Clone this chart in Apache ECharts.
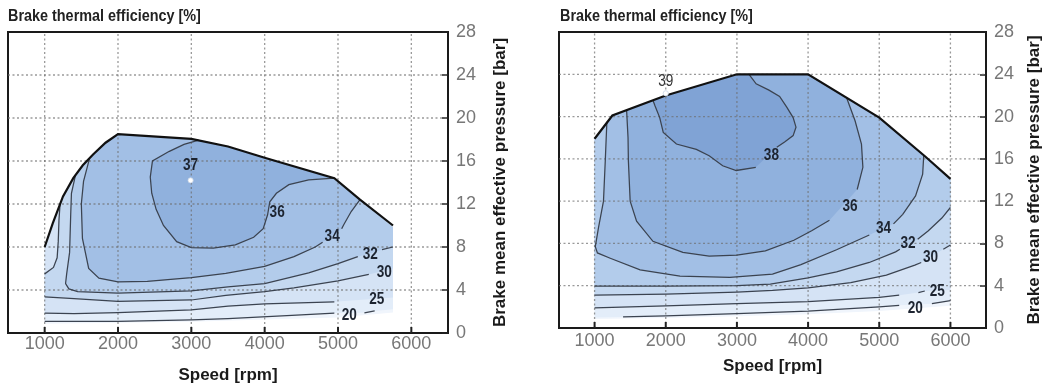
<!DOCTYPE html>
<html><head><meta charset="utf-8">
<script src="https://cdn.jsdelivr.net/npm/echarts@6/dist/echarts.min.js"></script>
<style>html,body{margin:0;padding:0;background:#fff}#c{width:1060px;height:389px}</style>
</head><body><div id="c"></div>
<script>
// ---------- shared ticks ----------
const xTicks = [1000, 2000, 3000, 4000, 5000, 6000];
const yGridTicks = [4, 8, 12, 16, 20, 24];

// ---------- LEFT MAP: full-load envelope (rpm, bar) ----------
const leftTop = [[1000,8.0],[1110,10.2],[1250,12.7],[1390,14.4],[1520,15.6],[1660,16.6],[1830,17.7],[2000,18.5],[3000,18.05],[3500,17.35],[4000,16.3],[4950,14.4],[5300,12.4],[5750,10.0]];
const leftBottom = [[5750,1.9],[5000,1.45],[4000,1.25],[3000,1.05],[2000,0.95],[1000,0.85]];
// contour lines (efficiency %)
const left36 = [[3100,17.95],[2900,17.55],[2700,16.9],[2470,16.0],[2440,14.5],[2460,13.0],[2520,11.5],[2620,10.0],[2800,8.5],[3000,7.95],[3300,7.9],[3600,8.2],[3850,8.9],[3980,9.7],[4040,11.0],[4070,12.2],[4160,13.0],[4330,13.8],[4600,14.25],[4950,14.4]];
const left36Close = [[5000,22],[3100,22]];
const left34a = [[1610,16.2],[1530,14.1],[1500,12.0],[1515,8.8],[1600,6.0],[1740,5.1],[2000,4.75],[2400,4.8],[3000,5.15],[3470,5.55],[4000,6.2],[4400,7.1],[4690,8.0],[4790,8.45]];
const left34b = [[5050,9.7],[5080,10.1],[5180,11.3],[5300,12.4]];
const left34Close = [[5400,22],[1610,22]];
const left32a = [[1420,14.68],[1365,13.0],[1355,11.0],[1340,7.5],[1300,5.5],[1285,4.6],[1330,4.1],[1450,3.85],[2000,3.72],[3000,3.92],[3500,4.3],[4000,4.6],[4600,5.6],[5000,6.45],[5270,7.1]];
const left32b = [[5600,7.75],[5750,8.0]];
const left32Close = [[6000,8.0],[6000,22],[1420,22]];
const left30a = [[1210,12.0],[1195,10.5],[1185,8.5],[1170,7.0],[1120,6.1],[1000,5.5]];
const left30b = [[1000,3.35],[1400,3.2],[2000,2.95],[3000,3.07],[3470,3.5],[4000,3.85],[4400,4.2],[5000,4.85],[5420,5.45]];
const left30Close = [[5750,6.0],[6000,6.0],[6000,22],[1300,22]];
const left30Edge = [[900,5.5],[900,3.35]];
const left25 = [[1000,1.85],[1400,1.8],[2000,1.9],[3000,2.15],[3500,2.5],[4000,2.72],[4950,2.9]];
const left25Close = [[5750,3.3],[6000,3.3],[6000,22],[900,22],[900,1.85]];
const left20a = [[1000,1.07],[2000,1.08],[3000,1.22],[3500,1.33],[4370,1.64],[4950,1.86]];
const left20b = [[5360,1.88],[5500,2.05]];
const left20Close = [[5750,2.2],[6000,2.2],[6000,22],[900,22],[900,1.07]];
const leftLabels = [['36',4170,11.2],['34',4920,9.0],['32',5440,7.35],['30',5630,5.6],['25',5530,3.1],['20',5155,1.65]];
const leftPeak = [['37',2990,15.6,14.2]];

// ---------- RIGHT MAP ----------
const rightTop = [[1000,17.9],[1250,20.1],[2000,22.0],[3000,24.0],[4000,24.0],[5000,19.9],[5650,16.2],[6000,14.1]];
const rightBottom = [[6000,2.1],[5000,1.6],[4000,1.3],[3000,1.1],[2000,0.95],[1000,0.85]];
const right38a = [[1820,21.55],[1850,21.0],[1915,19.9],[1965,18.5],[2150,17.4],[2430,16.9],[2610,16.3],[2800,15.35],[2990,14.9],[3265,15.2]];
const right38b = [[3560,17.1],[3670,17.6],[3790,18.2],[3830,19.0],[3790,19.9],[3700,20.9],[3600,21.9],[3450,22.5],[3270,23.1],[3170,24.0]];
const right38Close = [[3170,26],[1820,26]];
const right36a = [[1450,20.6],[1470,18.0],[1475,15.8],[1500,12.0],[1590,10.1],[1820,8.2],[2240,7.15],[2610,6.8],[3000,6.9],[3400,7.3],[3800,8.3],[4050,9.2],[4300,10.2]];
const right36b = [[4690,13.1],[4770,15.2],[4750,17.4],[4660,19.6],[4540,21.8]];
const right36Close = [[4540,26],[1450,26]];
const right34a = [[1172,19.4],[1150,15.8],[1125,12.0],[1055,9.5],[1010,7.7],[1040,7.1],[1220,6.6],[1640,5.5],[2200,4.9],[2900,4.8],[3500,5.1],[3900,6.0],[4400,7.4],[4860,8.8]];
const right34b = [[5200,9.85],[5330,10.75],[5510,12.5],[5610,14.55],[5625,16.3]];
const right34Close = [[5625,26],[1172,26]];
const right32a = [[1000,3.97],[2000,3.95],[3000,4.0],[3470,4.15],[4000,4.75],[4400,5.3],[4860,6.2],[5230,7.2],[5290,7.45]];
const right32b = [[5540,8.4],[5690,9.2],[5880,10.4],[6000,11.4]];
const right32Close = [[6200,11.4],[6200,26],[900,26],[900,3.97]];
const right30a = [[1000,3.1],[2000,3.2],[3000,3.4],[3500,3.55],[4000,3.8],[4600,4.3],[5100,5.0],[5500,5.95],[5590,6.2]];
const right30b = [[5900,7.45],[6000,7.85]];
const right30Close = [[6200,7.85],[6200,26],[900,26],[900,3.1]];
const right25a = [[1000,1.9],[2000,2.1],[3000,2.3],[4000,2.5],[5000,2.9],[5280,3.1]];
const right25b = [[5550,3.35],[5640,3.5]];
const right25Close = [[6000,3.6],[6200,3.6],[6200,26],[900,26],[900,1.9]];
const right20a = [[1400,1.05],[2000,1.15],[3000,1.35],[4000,1.6],[5000,2.0],[5280,2.15]];
const right20b = [[5740,2.3],[6000,2.6]];
const right20Close = [[6200,2.6],[6200,26],[900,26],[900,0.97]];
const rightLabels = [['38',3485,16.3],['36',4590,11.55],['34',5060,9.4],['32',5405,8.05],['30',5720,6.65],['25',5815,3.45],['20',5505,1.9]];
const rightPeak = [['39',2000,23.3,22.2]];

// ---------- colours ----------
const palette = {base:'#f0f5fc','20':'#e3edf9','25':'#d5e3f5','30':'#c4d8f0','32':'#b3cceb','34':'#a2bfe5','36':'#90b1dd','38':'#80a3d5'};
const FONT = 'Liberation Sans, Arial, sans-serif';

const panels = [
  { top:leftTop, bottom:leftBottom,
    regions:[
      {level:'20', parts:[left20a,left20b,left20Close]},
      {level:'25', parts:[left25,left25Close]},
      {level:'30', parts:[left30b,left30Close,left30a,left30Edge]},
      {level:'32', parts:[left32a,left32b,left32Close]},
      {level:'34', parts:[left34a,left34b,left34Close]},
      {level:'36', parts:[left36,left36Close]}
    ],
    lines:[left36,left34a,left34b,left32a,left32b,left30a,left30b,left25,left20a,left20b],
    labels:leftLabels, peaks:leftPeak, peakBold:true },
  { top:rightTop, bottom:rightBottom,
    regions:[
      {level:'20', parts:[right20a,right20b,right20Close]},
      {level:'25', parts:[right25a,right25b,right25Close]},
      {level:'30', parts:[right30a,right30b,right30Close]},
      {level:'32', parts:[right32a,right32b,right32Close]},
      {level:'34', parts:[right34a,right34b,right34Close]},
      {level:'36', parts:[right36a,right36b,right36Close]},
      {level:'38', parts:[right38a,right38b,right38Close]}
    ],
    lines:[right38a,right38b,right36a,right36b,right34a,right34b,right32a,right32b,right30a,right30b,right25a,right25b,right20a,right20b],
    labels:rightLabels, peaks:rightPeak, peakBold:false }
];

// Sutherland-Hodgman clip of a polygon against the (convex) envelope, in data space
function clipPoly(subject, clip) {
  let area = 0;
  for (let i = 0; i < clip.length; i++) {
    const a = clip[i], b = clip[(i + 1) % clip.length];
    area += a[0] * b[1] - b[0] * a[1];
  }
  const s = area > 0 ? 1 : -1;
  let out = subject.slice();
  for (let i = 0; i < clip.length && out.length; i++) {
    const a = clip[i], b = clip[(i + 1) % clip.length];
    const side = p => s * ((b[0] - a[0]) * (p[1] - a[1]) - (b[1] - a[1]) * (p[0] - a[0]));
    const inp = out; out = [];
    for (let j = 0; j < inp.length; j++) {
      const cur = inp[j], prev = inp[(j + inp.length - 1) % inp.length];
      const dc = side(cur), dp = side(prev);
      if (dc >= 0) {
        if (dp < 0) { const t = dp / (dp - dc); out.push([prev[0] + t * (cur[0] - prev[0]), prev[1] + t * (cur[1] - prev[1])]); }
        out.push(cur);
      } else if (dp >= 0) {
        const t = dp / (dp - dc); out.push([prev[0] + t * (cur[0] - prev[0]), prev[1] + t * (cur[1] - prev[1])]);
      }
    }
  }
  return out;
}

function makeRender(p) {
  return function (params, api) {
    const px = pts => pts.map(q => api.coord(q));
    const env = p.top.concat(p.bottom);
    const ch = [];
    ch.push({type:'polygon', shape:{points:px(env)}, style:{fill:palette.base}});
    p.regions.forEach(r => {
      const poly = clipPoly([].concat(...r.parts), env);
      if (poly.length > 2) ch.push({type:'polygon', shape:{points:px(poly)}, style:{fill:palette[r.level]}});
    });
    // dotted grid
    xTicks.forEach(x => {
      const a = api.coord([x, 0]), b = api.coord([x, 28]);
      ch.push({type:'line', shape:{x1:a[0], y1:a[1], x2:b[0], y2:b[1]}, style:{stroke:'rgba(110,110,110,0.7)', lineWidth:1.3, lineDash:[2,2.5]}});
      ch.push({type:'line', shape:{x1:a[0], y1:a[1], x2:a[0], y2:a[1] - 6}, style:{stroke:'#222', lineWidth:2}});
    });
    yGridTicks.forEach(y => {
      const a = api.coord([500, y]), b = api.coord([6500, y]);
      ch.push({type:'line', shape:{x1:a[0], y1:a[1], x2:b[0], y2:b[1]}, style:{stroke:'rgba(110,110,110,0.7)', lineWidth:1.3, lineDash:[2,2.5]}});
    });
    // contour lines
    p.lines.forEach(l => ch.push({type:'polyline', shape:{points:px(l)}, style:{stroke:'#3b4350', lineWidth:1.25, fill:null}}));
    // full-load line
    ch.push({type:'polyline', shape:{points:px(p.top)}, style:{stroke:'#111', lineWidth:2.2, fill:null}});
    // labels
    p.labels.forEach(l => {
      const c = api.coord([l[1], l[2]]);
      ch.push({type:'text', x:c[0], y:c[1], scaleX:0.8,
        style:{text:l[0], fill:'#1d2430', fontSize:17, fontWeight:'bold', fontFamily:FONT, align:'center', verticalAlign:'middle'}});
    });
    p.peaks.forEach(l => {
      const c = api.coord([l[1], l[2]]);
      ch.push({type:'text', x:c[0], y:c[1], scaleX:0.8,
        style:{text:l[0], fill: p.peakBold ? '#1d2430' : '#333', fontSize:17, fontWeight: p.peakBold ? 'bold' : 'normal', fontFamily:FONT, align:'center', verticalAlign:'middle'}});
      const d = api.coord([l[1], l[3]]);
      ch.push({type:'circle', shape:{cx:d[0], cy:d[1], r:2.6}, style:{fill:'#fff', stroke:'#c8d4e4', lineWidth:0.8}});
    });
    return {type:'group', children:ch};
  };
}

const chart = echarts.init(document.getElementById('c'));
const xAxisBase = (gi, gap) => ({
  gridIndex:gi, type:'value', min:500, max:6500, interval:500,
  axisLine:{show:false}, axisTick:{show:false}, splitLine:{show:false},
  axisLabel:{formatter:v => (v % 1000 === 0 ? String(v) : ''), color:'#777', fontSize:18, fontFamily:FONT, margin:gi === 0 ? 2 : 4},
  name:'Speed [rpm]', nameLocation:'middle', nameGap:gap,
  nameTextStyle:{fontSize:17, fontWeight:'bold', color:'#1a1a1a', fontFamily:FONT}
});
const yAxisBase = (gi, gap) => ({
  gridIndex:gi, type:'value', position:'right', min:0, max:28, interval:4,
  axisLine:{show:false}, splitLine:{show:false},
  axisTick:{show:true, inside:true, length:6, lineStyle:{color:'#222', width:1.5}},
  axisLabel:{color:'#777', fontSize:18, fontFamily:FONT, margin:8},
  name:'Brake mean effective pressure [bar]', nameLocation:'middle', nameRotate:90, nameGap:gap,
  nameTextStyle:{fontSize:17, fontWeight:'bold', color:'#1a1a1a', fontFamily:FONT}
});

chart.setOption({
  animation:false,
  backgroundColor:'#fff',
  grid:[
    {left:8, top:32, width:440, height:303, show:true, borderColor:'#1a1a1a', borderWidth:2, backgroundColor:'#fff'},
    {left:559, top:32, width:427, height:296, show:true, borderColor:'#1a1a1a', borderWidth:2, backgroundColor:'#fff'}
  ],
  xAxis:[xAxisBase(0, 34), xAxisBase(1, 30)],
  yAxis:[yAxisBase(0, 44), yAxisBase(1, 40)],
  graphic:[
    {type:'text', x:8, y:17, scaleX:0.9, style:{text:'Brake thermal efficiency [%]', fontSize:16, fontWeight:'bold', fill:'#222', fontFamily:FONT, align:'left', verticalAlign:'middle'}},
    {type:'text', x:560, y:17, scaleX:0.9, style:{text:'Brake thermal efficiency [%]', fontSize:16, fontWeight:'bold', fill:'#222', fontFamily:FONT, align:'left', verticalAlign:'middle'}}
  ],
  series:[
    {type:'custom', xAxisIndex:0, yAxisIndex:0, data:[[3000,10]], renderItem:makeRender(panels[0]), silent:true, clip:false},
    {type:'custom', xAxisIndex:1, yAxisIndex:1, data:[[3000,10]], renderItem:makeRender(panels[1]), silent:true, clip:false}
  ]
});
</script>
</body></html>
